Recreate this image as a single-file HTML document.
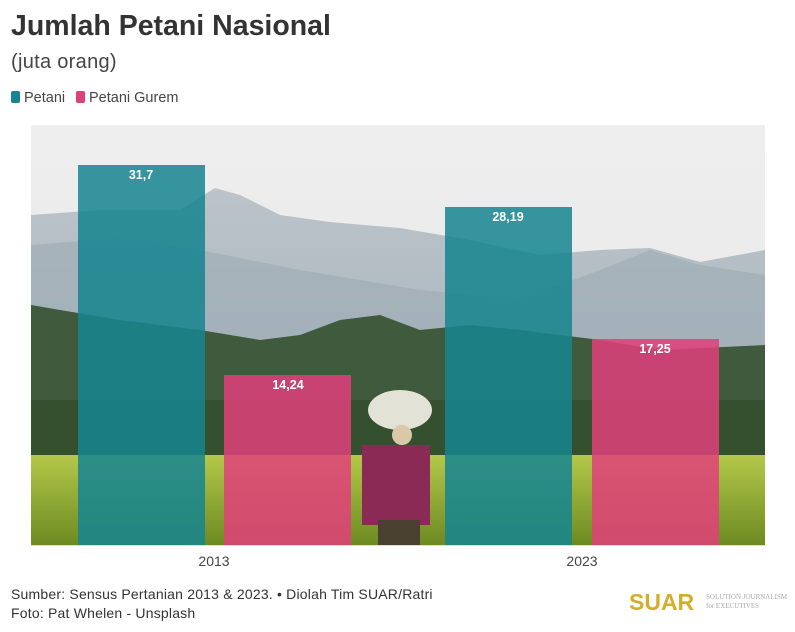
<!DOCTYPE html>
<html><head><meta charset="utf-8"><style>
body{margin:0;width:795px;height:632px;background:#fff;font-family:"Liberation Sans",sans-serif;overflow:hidden;position:relative}
.t{position:absolute;left:11px;top:10px;font-size:28.5px;font-weight:bold;color:#333}
.s{position:absolute;left:11px;top:51px;font-size:20px;color:#444;letter-spacing:0.3px}
.lg{position:absolute;top:90px;font-size:14.5px;color:#444}
.lg i{display:inline-block;width:9px;height:12px;border-radius:2px;vertical-align:-1px;margin-right:4px}
.f{position:absolute;left:11px;font-size:14px;color:#333;letter-spacing:0.2px}
</style></head><body>
<div class="t">Jumlah Petani Nasional</div>
<div class="s">(juta orang)</div>
<div class="lg" style="left:11px"><i style="background:#16858f"></i>Petani</div>
<div class="lg" style="left:76px"><i style="background:#e0407a"></i>Petani Gurem</div>
<svg width="795" height="632" style="position:absolute;left:0;top:0" xmlns="http://www.w3.org/2000/svg">
<defs>
<linearGradient id="sky" x1="0" y1="0" x2="0" y2="1"><stop offset="0" stop-color="#efeeee"/><stop offset="1" stop-color="#e4e6e8"/></linearGradient>
<linearGradient id="mt" x1="0" y1="0" x2="0" y2="1"><stop offset="0" stop-color="#bcc4ca"/><stop offset="1" stop-color="#98a8b2"/></linearGradient>
<linearGradient id="fld" x1="0" y1="0" x2="0" y2="1"><stop offset="0" stop-color="#b4c84a"/><stop offset="1" stop-color="#6d8a22"/></linearGradient>
</defs>
<rect x="31" y="125" width="734" height="420" fill="url(#sky)"/>
<polygon points="31,215 100,210 180,210 215,188 240,195 280,215 330,222 400,228 470,240 540,255 600,250 650,248 700,262 765,250 765,545 31,545" fill="url(#mt)"/>
<polygon points="31,245 120,238 200,250 300,270 420,290 520,300 600,270 650,250 700,265 765,275 765,545 31,545" fill="#a0aeb7" fill-opacity=".7"/>
<polygon points="31,305 60,310 120,320 200,330 260,340 300,335 340,320 380,315 420,330 470,325 520,330 600,340 660,350 765,345 765,545 31,545" fill="#3f5a3c"/>
<rect x="31" y="400" width="734" height="60" fill="#34502f"/>
<rect x="31" y="455" width="734" height="90" fill="url(#fld)"/>
<ellipse cx="400" cy="410" rx="32" ry="20" fill="#e2e2d6"/>
<rect x="362" y="445" width="68" height="80" fill="#8a2a55"/>
<rect x="378" y="520" width="42" height="25" fill="#4a4030"/>
<circle cx="402" cy="435" r="10" fill="#d9c9a8"/>
<rect x="78" y="165" width="127" height="380" fill="#16858f" fill-opacity=".86"/>
<rect x="224" y="375" width="127" height="170" fill="#e0407a" fill-opacity=".85"/>
<rect x="445" y="207" width="127" height="338" fill="#16858f" fill-opacity=".86"/>
<rect x="592" y="339" width="127" height="206" fill="#e0407a" fill-opacity=".85"/>
<g font-family="Liberation Sans,sans-serif" font-size="12.5" font-weight="bold" fill="#fff" text-anchor="middle">
<text x="141" y="179">31,7</text><text x="288" y="389">14,24</text>
<text x="508" y="221">28,19</text><text x="655" y="353">17,25</text></g>
<line x1="31" y1="545.5" x2="765" y2="545.5" stroke="#ddd"/>
<g font-family="Liberation Sans,sans-serif" font-size="14" fill="#444" text-anchor="middle">
<text x="214" y="566">2013</text><text x="582" y="566">2023</text></g>
<text x="629" y="610" font-family="Liberation Sans,sans-serif" font-size="23" font-weight="bold" fill="#d4ae2a">SUAR</text>
<text x="706" y="599" font-family="Liberation Serif,serif" font-size="7" fill="#aaa">SOLUTION JOURNALISM</text>
<text x="706" y="608" font-family="Liberation Serif,serif" font-size="7" fill="#aaa">for EXECUTIVES</text>
</svg>
<div class="f" style="top:586px">Sumber: Sensus Pertanian 2013 &amp; 2023. • Diolah Tim SUAR/Ratri</div>
<div class="f" style="top:605px">Foto: Pat Whelen - Unsplash</div>
</body></html>
